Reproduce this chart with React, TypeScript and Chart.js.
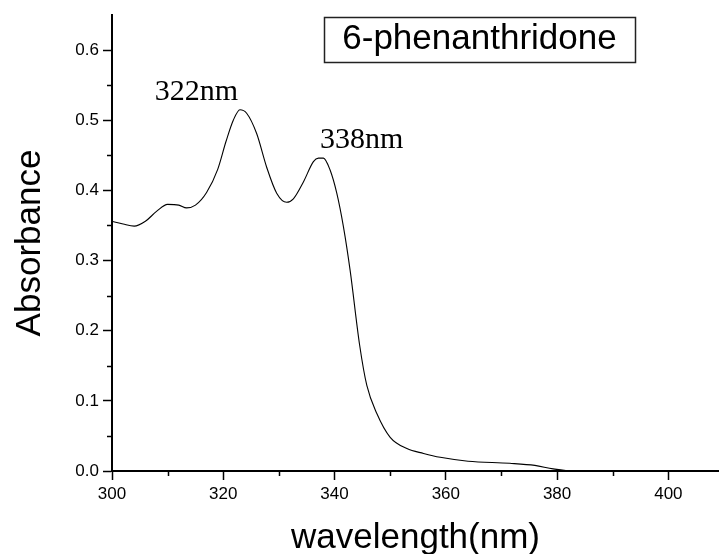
import React, { useEffect, useRef } from "react";
import { Chart, registerables } from "chart.js";

Chart.register(...registerables);

// ---- data ----
const wavelengths = [
  300, 302, 304, 306, 308, 310, 312, 313.4, 315, 317, 319, 320.5, 321.8, 323,
  324.2, 326, 327.8, 329.6, 331.4, 332.6, 334.4, 336.2, 337.1, 338, 339.2, 340.4,
  341.6, 342.8, 344.5, 345.8, 347.6, 350, 353, 356, 359, 364, 371.5, 376, 379.3, 383, 384,
];
const absorbance = [
  0.356, 0.352, 0.349, 0.356, 0.37, 0.38, 0.379, 0.375, 0.379, 0.397, 0.43, 0.47, 0.5, 0.515,
  0.51, 0.481, 0.433, 0.396, 0.383, 0.388, 0.412, 0.441, 0.446, 0.446, 0.429, 0.396,
  0.348, 0.286, 0.18, 0.122, 0.082, 0.048, 0.032, 0.025, 0.0195, 0.014, 0.011, 0.008, 0.003, 0.0, 0.0,
];
const xMajorTicks = [300, 320, 340, 360, 380, 400];
const xMinorTicks = [310, 330, 350, 370, 390];
const yMajorTicks = [0, 0.1, 0.2, 0.3, 0.4, 0.5, 0.6];
const yMinorTicks = [0.05, 0.15, 0.25, 0.35, 0.45, 0.55];
const peakLabels = ["322nm", "338nm"];
const sampleName = "6-phenanthridone";
const xTitle = "wavelength(nm)";
const yTitle = "Absorbance";

const SANS = "'Liberation Sans', Arial, sans-serif";
const SERIF = "'Liberation Serif', 'Times New Roman', serif";

const decorPlugin = {
  id: "decor",
  afterDraw(chart: any) {
    const { ctx, chartArea } = chart;
    const xs = chart.scales.x;
    const ys = chart.scales.y;
    ctx.save();
    // minor ticks
    ctx.strokeStyle = "#000";
    ctx.lineWidth = 1.5;
    ctx.beginPath();
    for (const v of xMinorTicks) {
      const px = Math.round(xs.getPixelForValue(v)) + 0.5;
      ctx.moveTo(px, chartArea.bottom);
      ctx.lineTo(px, chartArea.bottom + 5);
    }
    for (const v of yMinorTicks) {
      const py = Math.round(ys.getPixelForValue(v)) + 0.5;
      ctx.moveTo(chartArea.left, py);
      ctx.lineTo(chartArea.left - 5, py);
    }
    ctx.stroke();

    // peak annotations
    ctx.fillStyle = "#000";
    ctx.font = `30px ${SERIF}`;
    ctx.textAlign = "left";
    ctx.textBaseline = "alphabetic";
    const peakPos = [
      [307.7, 0.5285],
      [337.4, 0.46],
    ];
    peakLabels.forEach((t, i) => {
      ctx.fillText(t, xs.getPixelForValue(peakPos[i][0]), ys.getPixelForValue(peakPos[i][1]));
    });

    // sample name box
    const bx0 = xs.getPixelForValue(338.1);
    const bx1 = xs.getPixelForValue(394.0);
    const by0 = ys.getPixelForValue(0.647);
    const by1 = ys.getPixelForValue(0.583);
    ctx.strokeStyle = "#222";
    ctx.lineWidth = 1.5;
    ctx.strokeRect(Math.round(bx0) + 0.5, Math.round(by0) + 0.5, Math.round(bx1 - bx0), Math.round(by1 - by0));
    ctx.font = `35px ${SANS}`;
    ctx.textAlign = "center";
    ctx.fillText(sampleName, (bx0 + bx1) / 2, ys.getPixelForValue(0.601));
    ctx.restore();
  },
};

export default function App() {
  const ref = useRef<HTMLCanvasElement | null>(null);

  useEffect(() => {
    if (!ref.current) return;
    const chart = new Chart(ref.current, {
      type: "line",
      data: {
        datasets: [
          {
            data: wavelengths.map((x, i) => ({ x, y: absorbance[i] })),
            borderColor: "#000",
            borderWidth: 1.1,
            pointRadius: 0,
            cubicInterpolationMode: "monotone",
            fill: false,
          },
        ],
      },
      options: {
        animation: false,
        responsive: false,
        devicePixelRatio: 1,
        layout: { padding: { top: 15, left: 0, right: 0, bottom: 0 } },
        plugins: { legend: { display: false }, tooltip: { enabled: false } },
        scales: {
          x: {
            type: "linear",
            min: 300,
            max: 409.1,
            afterBuildTicks: (s: any) => {
              s.ticks = xMajorTicks.map((v) => ({ value: v }));
            },
            afterFit: (s: any) => {
              s.height = 83;
            },
            ticks: {
              color: "#000",
              font: { family: SANS, size: 17 },
              padding: 4,
              maxRotation: 0,
              callback: (v: any) => String(v),
            },
            grid: {
              display: true,
              drawOnChartArea: false,
              drawTicks: true,
              tickLength: 9,
              tickWidth: 1.5,
              tickColor: "#000",
            },
            border: { display: true, color: "#000", width: 2 },
            title: {
              display: true,
              text: xTitle,
              color: "#000",
              font: { family: SANS, size: 35, lineHeight: 0.9 },
              padding: { top: 0, bottom: 0 },
            },
          },
          y: {
            type: "linear",
            min: 0,
            max: 0.65,
            afterBuildTicks: (s: any) => {
              s.ticks = yMajorTicks.map((v) => ({ value: v }));
            },
            afterFit: (s: any) => {
              s.width = 112;
            },
            ticks: {
              color: "#000",
              font: { family: SANS, size: 17 },
              padding: 4,
              callback: (v: any) => Number(v).toFixed(1),
            },
            grid: {
              display: true,
              drawOnChartArea: false,
              drawTicks: true,
              tickLength: 9,
              tickWidth: 1.5,
              tickColor: "#000",
            },
            border: { display: true, color: "#000", width: 2 },
            title: {
              display: true,
              text: yTitle,
              color: "#000",
              font: { family: SANS, size: 35, lineHeight: 1.2 },
              padding: { top: 9, bottom: 0 },
            },
          },
        },
      },
      plugins: [decorPlugin],
    } as any);
    return () => chart.destroy();
  }, []);

  return (
    <div style={{ position: "absolute", left: 0, top: 0, width: 719, height: 554, background: "#fff" }}>
      <canvas ref={ref} width={719} height={554} style={{ display: "block" }} />
    </div>
  );
}
